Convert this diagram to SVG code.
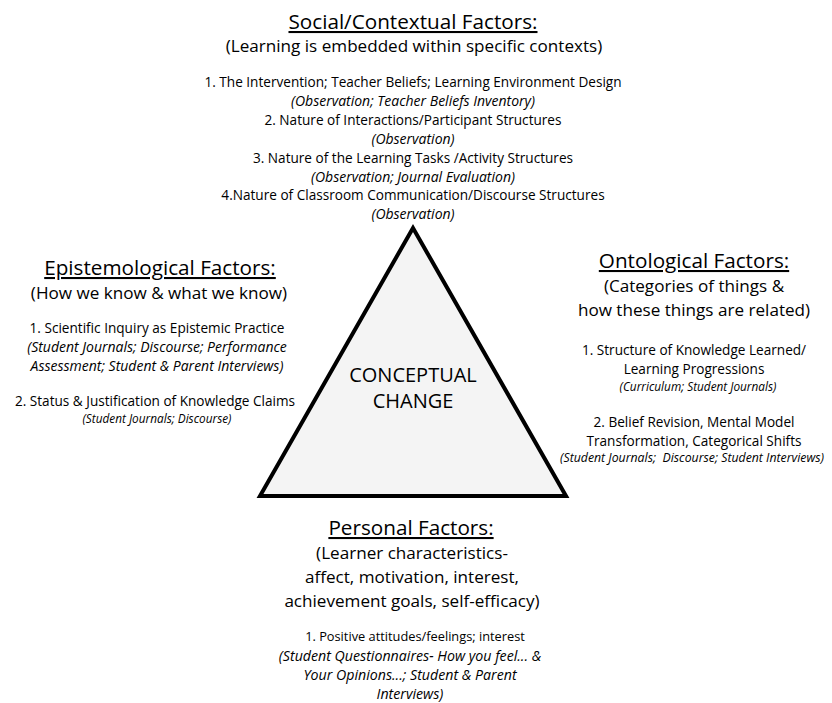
<svg xmlns="http://www.w3.org/2000/svg" width="832" height="703" viewBox="0 0 832 703">
<style>
text{font-family:"Open Sans","Noto Sans","Liberation Sans",sans-serif;fill:#000;text-anchor:middle}
.h{font-size:20.7px;text-decoration:underline}
.s{font-size:17.1px}
.i{font-size:13.6px}
.it{font-size:14px;font-style:italic}
.sm{font-size:11.8px;font-style:italic}
.c{font-size:20px}
</style>
<rect width="832" height="703" fill="#fff"/>
<g id="triangle">
<polygon points="413,228 260,496 566,496" fill="#f4f4f4" stroke="#000" stroke-width="4" stroke-linejoin="miter"/>
<text class="c" x="413" y="382">CONCEPTUAL</text>
<text class="c" x="413" y="408">CHANGE</text>
</g>
<g id="social">
<text class="h" x="413" y="29">Social/Contextual Factors:</text>
<text class="s" x="414" y="52">(Learning is embedded within specific contexts)</text>
<text class="i" x="413" y="87">1. The Intervention; Teacher Beliefs; Learning Environment Design</text>
<text class="it" x="413" y="106">(Observation; Teacher Beliefs Inventory)</text>
<text class="i" x="413" y="125">2. Nature of Interactions/Participant Structures</text>
<text class="it" x="413" y="144">(Observation)</text>
<text class="i" x="413" y="163">3. Nature of the Learning Tasks /Activity Structures</text>
<text class="it" x="413" y="182">(Observation; Journal Evaluation)</text>
<text class="i" x="413" y="200">4.Nature of Classroom Communication/Discourse Structures</text>
<text class="it" x="413" y="219">(Observation)</text>
</g>
<g id="epistemological">
<text class="h" x="160" y="275">Epistemological Factors:</text>
<text class="s" x="159" y="299">(How we know &amp; what we know)</text>
<text class="i" x="157" y="333">1. Scientific Inquiry as Epistemic Practice</text>
<text class="it" x="157" y="352">(Student Journals; Discourse; Performance</text>
<text class="it" x="157" y="371">Assessment; Student &amp; Parent Interviews)</text>
<text class="i" x="155" y="406">2. Status &amp; Justification of Knowledge Claims</text>
<text class="sm" x="157" y="423">(Student Journals; Discourse)</text>
</g>
<g id="ontological">
<text class="h" x="694" y="268">Ontological Factors:</text>
<text class="s" x="694" y="292">(Categories of things &amp;</text>
<text class="s" x="694" y="316">how these things are related)</text>
<text class="i" x="694" y="355">1. Structure of Knowledge Learned/</text>
<text class="i" x="694" y="374">Learning Progressions</text>
<text class="sm" x="698" y="391">(Curriculum; Student Journals)</text>
<text class="i" x="694" y="427">2. Belief Revision, Mental Model</text>
<text class="i" x="694" y="446">Transformation, Categorical Shifts</text>
<text class="sm" x="692" y="462" style="font-size:12.3px" xml:space="preserve">(Student Journals;  Discourse; Student Interviews)</text>
</g>
<g id="personal">
<text class="h" x="411" y="535">Personal Factors:</text>
<text class="s" x="412" y="559">(Learner characteristics-</text>
<text class="s" x="412" y="583">affect, motivation, interest,</text>
<text class="s" x="412" y="607">achievement goals, self-efficacy)</text>
<text class="i" x="415" y="641" style="font-size:12.8px">1. Positive attitudes/feelings; interest</text>
<text class="it" x="410" y="661" style="font-size:14.2px">(Student Questionnaires- How you feel... &amp;</text>
<text class="it" x="410" y="680" style="font-size:14.2px">Your Opinions...; Student &amp; Parent</text>
<text class="it" x="410" y="699" style="font-size:14.2px">Interviews)</text>
</g>
</svg>
